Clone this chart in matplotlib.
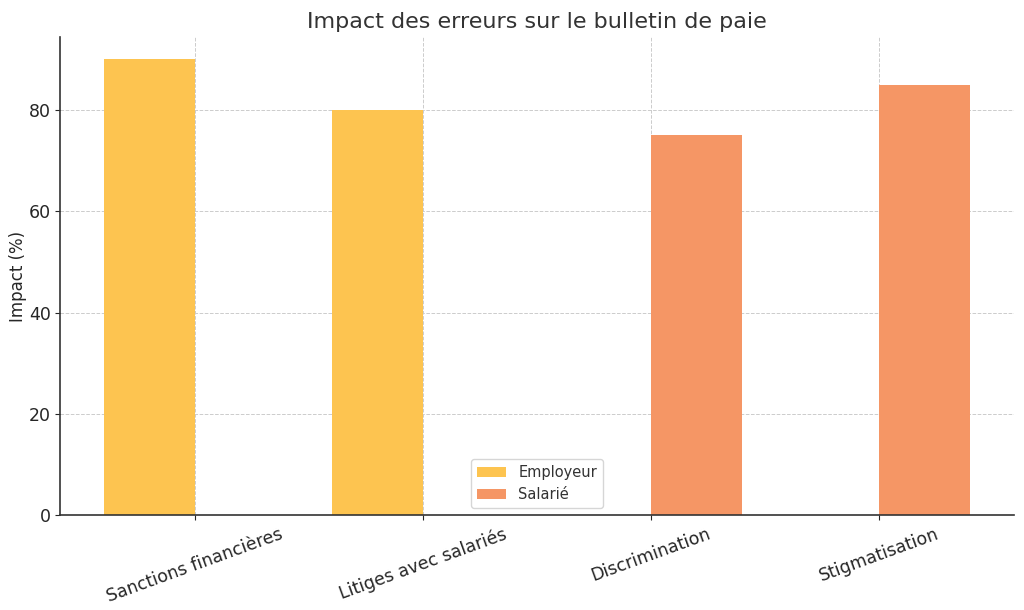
import matplotlib
matplotlib.use("Agg")
import matplotlib.pyplot as plt
import numpy as np

categories = ["Sanctions financières", "Litiges avec salariés", "Discrimination", "Stigmatisation"]
employeur = [90, 80, 0, 0]
salarie = [0, 0, 75, 85]

plt.rcParams['font.family'] = ['DejaVu Sans']
fig, ax = plt.subplots(figsize=(10.24, 6.1), dpi=100)
x = np.arange(len(categories))
w = 0.4
ax.bar(x - w/2, employeur, w, color='#FDC450', label='Employeur')
ax.bar(x + w/2, salarie, w, color='#F59665', label='Salarié')

ax.set_xticks(x)
ax.set_xticklabels(categories, rotation=20, ha='center', fontsize=12.5, color='#262626')
ax.tick_params(axis='y', labelsize=12.5, colors='#262626')
ax.tick_params(axis='x', colors='#262626')
ax.set_ylabel('Impact (%)', fontsize=12, color='#262626', labelpad=1)
ax.set_title('Impact des erreurs sur le bulletin de paie', fontsize=16, color='#333333')
ax.grid(True, linestyle='--', color='#cccccc', linewidth=0.7)
ax.set_axisbelow(True)
for s in ['top', 'right']:
    ax.spines[s].set_visible(False)
for s in ['left', 'bottom']:
    ax.spines[s].set_color('#333333')
    ax.spines[s].set_linewidth(1.2)
leg = ax.legend(loc='lower center', fontsize=10.5)
for t in leg.get_texts():
    t.set_color('#333333')
fig.subplots_adjust(left=0.059, right=0.99, top=0.94, bottom=0.155)
fig.savefig('out.png', dpi=100)
